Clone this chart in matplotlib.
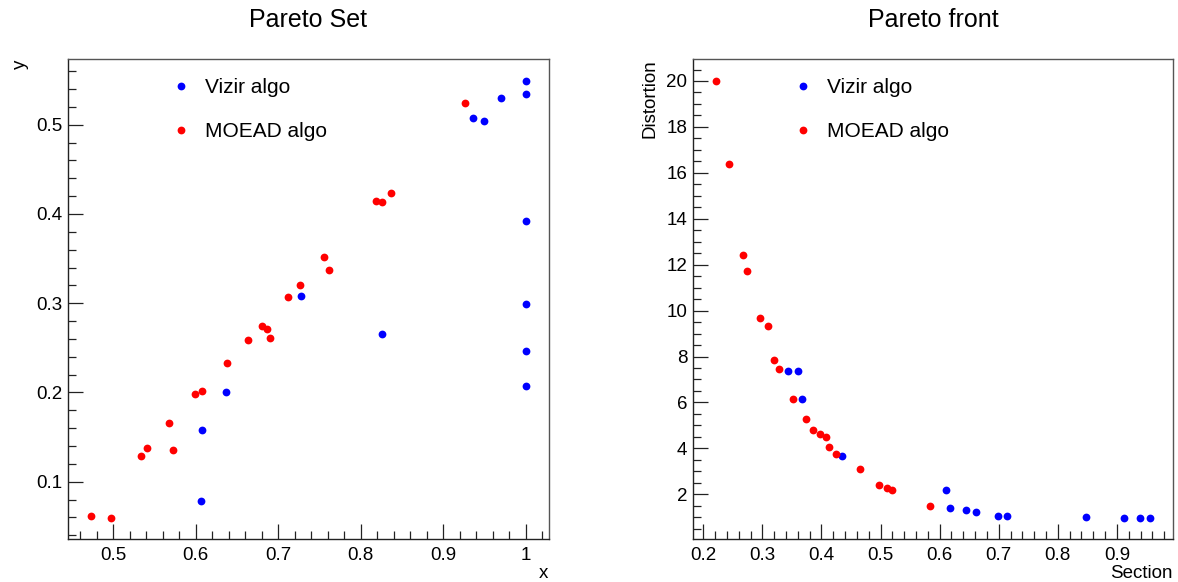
import matplotlib
matplotlib.use("Agg")
import matplotlib.pyplot as plt
from matplotlib.ticker import MultipleLocator

plt.rcParams['font.family'] = ['Liberation Sans', 'DejaVu Sans']

# ---- Pareto Set (decision space) ----
set_vizir_x = [0.606, 0.607, 0.637, 0.936, 0.949, 0.970, 1.0, 1.0, 1.0,
               0.7275, 0.826, 1.0, 1.0, 1.0]
set_vizir_y = [0.078, 0.158, 0.200, 0.507, 0.504, 0.530, 0.549, 0.534, 0.392,
               0.308, 0.265, 0.299, 0.247, 0.207]
set_moead_x = [0.473, 0.497, 0.533, 0.541, 0.568, 0.572, 0.599, 0.607, 0.638,
               0.663, 0.680, 0.686, 0.690, 0.712, 0.726, 0.755, 0.762, 0.818,
               0.826, 0.837, 0.926]
set_moead_y = [0.062, 0.059, 0.129, 0.138, 0.166, 0.136, 0.198, 0.202, 0.233,
               0.259, 0.275, 0.271, 0.261, 0.307, 0.320, 0.352, 0.337, 0.415,
               0.413, 0.424, 0.524]

# ---- Pareto front (objective space) ----
front_vizir_x = [0.343, 0.361, 0.367, 0.434, 0.610, 0.618, 0.645, 0.661, 0.699,
                 0.714, 0.847, 0.912, 0.939, 0.956]
front_vizir_y = [7.38, 7.38, 6.14, 3.68, 2.19, 1.42, 1.33, 1.24, 1.07,
                 1.07, 1.02, 0.98, 0.98, 0.98]
front_moead_x = [0.221, 0.244, 0.267, 0.2745, 0.296, 0.309, 0.319, 0.328, 0.352,
                 0.373, 0.386, 0.398, 0.408, 0.413, 0.4245, 0.466, 0.497, 0.511,
                 0.520, 0.584]
front_moead_y = [20.0, 16.37, 12.42, 11.74, 9.68, 9.33, 7.86, 7.44, 6.14,
                 5.28, 4.81, 4.64, 4.51, 4.05, 3.74, 3.09, 2.41, 2.27,
                 2.19, 1.50]

labels = ["Vizir algo", "MOEAD algo"]
colors = ["#0000ff", "#ff0000"]

fig = plt.figure(figsize=(11.78, 5.82), dpi=100)
W, H = 1178.0, 582.0


def make_axes(l, r, t, b):
    return fig.add_axes([l / W, 1 - b / H, (r - l) / W, (b - t) / H])


def style(ax, xmaj, xmin, ymaj, ymin, ypad):
    ax.xaxis.set_major_locator(MultipleLocator(xmaj))
    ax.xaxis.set_minor_locator(MultipleLocator(xmin))
    ax.yaxis.set_major_locator(MultipleLocator(ymaj))
    ax.yaxis.set_minor_locator(MultipleLocator(ymin))
    ax.tick_params(which='both', direction='in', top=False, right=False,
                   labelsize=13.5, color='#222222', width=0.9)
    ax.tick_params(which='major', length=11)
    ax.tick_params(which='minor', length=6)
    ax.tick_params(axis='x', pad=6)
    ax.tick_params(axis='y', pad=ypad)
    for s in ['left', 'bottom']:
        ax.spines[s].set_color('#222222')
        ax.spines[s].set_linewidth(1.0)
    for s in ['top', 'right']:
        ax.spines[s].set_color('#555555')
        ax.spines[s].set_linewidth(1.0)
    fmt = plt.FuncFormatter(lambda v, p: ('%g' % round(v, 3)))
    ax.xaxis.set_major_formatter(fmt)
    ax.yaxis.set_major_formatter(fmt)


leg_kw = dict(loc='upper left', frameon=False, fontsize=15, handlelength=1.0,
              handletextpad=0.63, labelspacing=1.2, borderpad=0, borderaxespad=0)
mk = dict(ms=5.6, mew=0, linestyle='none', marker='o')

# Left panel
ax1 = make_axes(68.3, 548.7, 59.3, 539.0)
h1 = ax1.plot(set_vizir_x, set_vizir_y, color=colors[0], label=labels[0], **mk)[0]
h2 = ax1.plot(set_moead_x, set_moead_y, color=colors[1], label=labels[1], **mk)[0]
ax1.set_xlim(0.4455, 1.0277)
ax1.set_ylim(0.0358, 0.5733)
style(ax1, 0.1, 0.02, 0.1, 0.02, 4)
ax1.legend(handles=[h1, h2], bbox_to_anchor=(0.213, 0.96), **leg_kw)
fig.text(308 / W, 1 - 20 / H, 'Pareto Set', ha='center', va='center', fontsize=18)
fig.text(20 / W, 1 - 60 / H, 'y', ha='center', va='top', rotation=90, fontsize=13.5)
fig.text(548 / W, 1 - 573 / H, 'x', ha='right', va='center', fontsize=13.5)

# Right panel
ax2 = make_axes(692.7, 1173.0, 59.3, 539.0)
g1 = ax2.plot(front_vizir_x, front_vizir_y, color=colors[0], label=labels[0], **mk)[0]
g2 = ax2.plot(front_moead_x, front_moead_y, color=colors[1], label=labels[1], **mk)[0]
ax2.set_xlim(0.182, 0.995)
ax2.set_ylim(0.053, 20.945)
style(ax2, 0.1, 0.02, 2, 0.5, 4)
ax2.legend(handles=[g1, g2], bbox_to_anchor=(0.208, 0.96), **leg_kw)
fig.text(933 / W, 1 - 20 / H, 'Pareto front', ha='center', va='center', fontsize=18)
fig.text(650 / W, 1 - 59 / H, 'Distortion', ha='center', va='top', rotation=90, fontsize=13.5)
fig.text(1173 / W, 1 - 573 / H, 'Section', ha='right', va='center', fontsize=13.5)

fig.savefig('out.png', dpi=100)
